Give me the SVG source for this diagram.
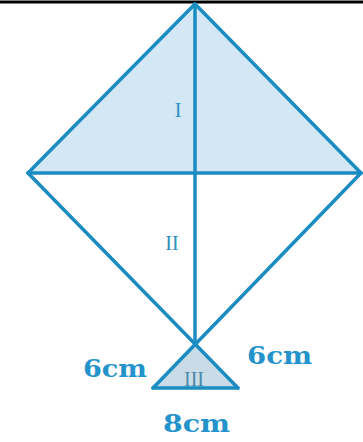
<svg xmlns="http://www.w3.org/2000/svg" width="363" height="442" viewBox="0 0 363 442">
<style>
.ln{stroke:#1a8cc2;stroke-width:3.5;fill:none;stroke-linecap:round;stroke-linejoin:round}
.lab{font-family:"DejaVu Serif","Liberation Serif",serif;font-weight:bold;font-size:25px;fill:#2593cb}
.rom{font-family:"Liberation Serif","Times New Roman",serif;font-size:20px;fill:#2a8fbd;text-anchor:middle}
</style>
<rect width="363" height="442" fill="#ffffff"/>
<line x1="0" y1="2" x2="363" y2="2" stroke="#000" stroke-width="3"/>
<g id="region-I">
<polygon points="195,4 28,173 361,173" fill="#d3e7f5"/>
<text class="rom" x="178" y="117">I</text>
</g>
<g id="region-III">
<polygon points="195,341 153,388 238,388" fill="#c9dbe6"/>
<text class="rom" x="194" y="386" style="fill:#4a8aa8">III</text>
</g>
<g id="region-II">
<text class="rom" x="172" y="250">II</text>
</g>
<g id="connectors">
<polyline class="ln" points="28,173 195,4 361,173"/>
<line class="ln" x1="28" y1="173" x2="361" y2="173"/>
<line class="ln" x1="195" y1="4" x2="195" y2="341"/>
<line class="ln" x1="28" y1="173" x2="238" y2="388"/>
<line class="ln" x1="361" y1="173" x2="153" y2="388"/>
<line class="ln" x1="153" y1="388" x2="238" y2="388"/>
</g>
<g id="labels">
<text class="lab" x="83" y="377" textLength="64" lengthAdjust="spacingAndGlyphs">6cm</text>
<text class="lab" x="247" y="364" textLength="65" lengthAdjust="spacingAndGlyphs">6cm</text>
<text class="lab" x="163" y="432" textLength="67" lengthAdjust="spacingAndGlyphs">8cm</text>
</g>
</svg>
